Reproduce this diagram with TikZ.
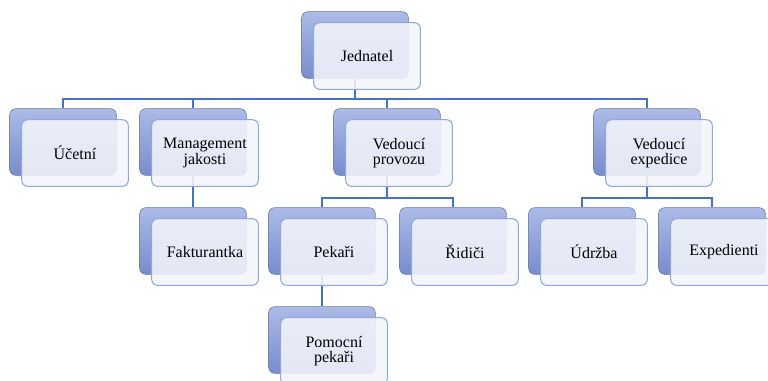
\documentclass[tikz,border=0pt]{standalone}
\usepackage{fontspec}
\setmainfont{Liberation Serif}
\usepackage{xcolor}
\usepackage{tikz}
\usetikzlibrary{calc}

\definecolor{linkblue}{RGB}{68,114,196}
\definecolor{backtop}{RGB}{172,186,230}
\definecolor{backbot}{RGB}{120,140,205}
\definecolor{backline}{RGB}{105,118,160}
\definecolor{frontfill}{RGB}{243,245,251}
\definecolor{frontline}{RGB}{143,168,220}

\tikzset{
  backbox/.style={draw=backline, rounded corners=4.5pt, top color=backtop,
    bottom color=backbot, minimum width=80pt, minimum height=50pt, inner sep=0pt},
  frontbox/.style={draw=frontline, line width=0.8pt, rounded corners=4.5pt,
    fill=frontfill, fill opacity=0.88, text opacity=1, minimum width=80pt,
    minimum height=50pt, inner sep=2pt, align=center,
    font=\fontsize{12}{11.5}\selectfont, xshift=9pt, yshift=-8.25pt},
  link/.style={draw=linkblue, line width=1.3pt}
}

\begin{document}
\begin{tikzpicture}[x=0.75pt,y=-0.75pt]
\useasboundingbox (0,0) rectangle (768,380);
\clip (0,0) rectangle (768,380);
% back boxes
\node[backbox] (jed) at (355,45) {};
\node[backbox] (uce) at (63,142) {};
\node[backbox] (man) at (193,142) {};
\node[backbox] (vpr) at (387,142) {};
\node[backbox] (vex) at (647,142) {};
\node[backbox] (fak) at (193,241) {};
\node[backbox] (pek) at (322,241) {};
\node[backbox] (rid) at (453,241) {};
\node[backbox] (udr) at (582,241) {};
\node[backbox] (exp) at (712,241) {};
\node[backbox] (pom) at (322,340) {};
% bus lines
\coordinate (bus1) at (0,99);
\coordinate (bus2) at (0,198);
\draw[link] (jed.south) |- (bus1 -| uce.north) -- (uce.north);
\draw[link] (jed.south) |- (bus1 -| man.north) -- (man.north);
\draw[link] (jed.south) |- (bus1 -| vpr.north) -- (vpr.north);
\draw[link] (jed.south) |- (bus1 -| vex.north) -- (vex.north);
\draw[link] (man.south) -- (fak.north);
\draw[link] (vpr.south) |- (bus2 -| pek.north) -- (pek.north);
\draw[link] (vpr.south) |- (bus2 -| rid.north) -- (rid.north);
\draw[link] (vex.south) |- (bus2 -| udr.north) -- (udr.north);
\draw[link] (vex.south) |- (bus2 -| exp.north) -- (exp.north);
\draw[link] (pek.south) -- (pom.north);
% front boxes
\node[frontbox] (jed-f) at (jed) {Jednatel};
\node[frontbox] (uce-f) at (uce) {Účetní};
\node[frontbox] (man-f) at (man) {Management\\jakosti};
\node[frontbox] (vpr-f) at (vpr) {Vedoucí\\provozu};
\node[frontbox] (vex-f) at (vex) {Vedoucí\\expedice};
\node[frontbox] (fak-f) at (fak) {Fakturantka};
\node[frontbox] (pek-f) at (pek) {Pekaři};
\node[frontbox] (rid-f) at (rid) {Řidiči};
\node[frontbox] (udr-f) at (udr) {Údržba};
\node[frontbox] (exp-f) at (exp) {Expedienti};
\node[frontbox] (pom-f) at (pom) {Pomocní\\pekaři};
\end{tikzpicture}
\end{document}
